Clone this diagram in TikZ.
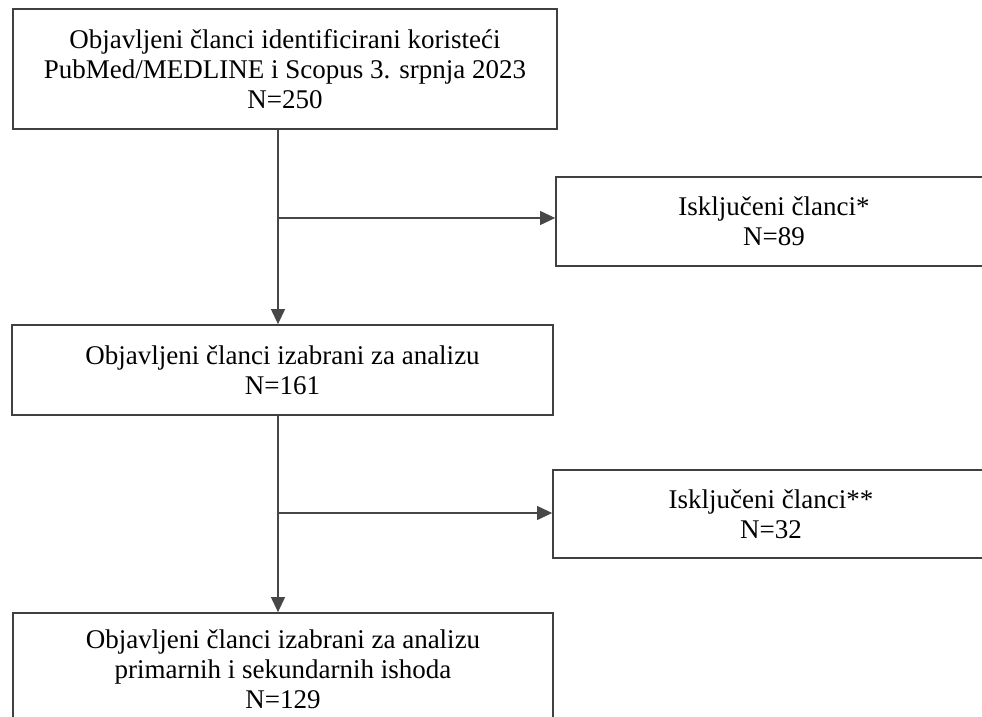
\documentclass[tikz,border=0pt]{standalone}
\usepackage{fontspec}
\setmainfont{Liberation Serif}
\usetikzlibrary{arrows.meta}
\begin{document}
\begin{tikzpicture}[x=1pt,y=-1pt,
  box/.style={draw=black!75, line width=1.8pt, align=center,
    font=\fontsize{27}{30}\selectfont, inner sep=0pt, anchor=center},
  conn/.style={draw=black!72, line width=1.2pt},
  tip/.style={-{Triangle[length=15pt,width=14pt]}}]
\useasboundingbox[fill=white] (0,0) rectangle (982,717);
\node[box, minimum width=544pt, minimum height=120pt] (top) at (285,69)
  {Objavljeni članci identificirani koristeći\\PubMed/MEDLINE i Scopus 3. srpnja 2023\\N=250};
\node[box, minimum width=436pt, minimum height=89pt] (ex1) at (774,221.5)
  {Isključeni članci*\\N=89};
\node[box, minimum width=541pt, minimum height=90pt] (mid) at (282.5,370)
  {Objavljeni članci izabrani za analizu\\N=161};
\node[box, minimum width=436pt, minimum height=88pt] (ex2) at (771,514)
  {Isključeni članci**\\N=32};
\node[box, minimum width=540pt, minimum height=112pt] (bot) at (283,669)
  {Objavljeni članci izabrani za analizu\\primarnih i sekundarnih ishoda\\N=129};
\coordinate (ax) at (278,0);
\coordinate (b1) at (278,218);
\coordinate (b2) at (278,513);
\draw[conn,tip] (top.south -| ax) -- (mid.north -| ax);
\draw[conn,tip] (b1) -- (b1 -| ex1.west);
\draw[conn,tip] (mid.south -| ax) -- (bot.north -| ax);
\draw[conn,tip] (b2) -- (b2 -| ex2.west);
\end{tikzpicture}
\end{document}
